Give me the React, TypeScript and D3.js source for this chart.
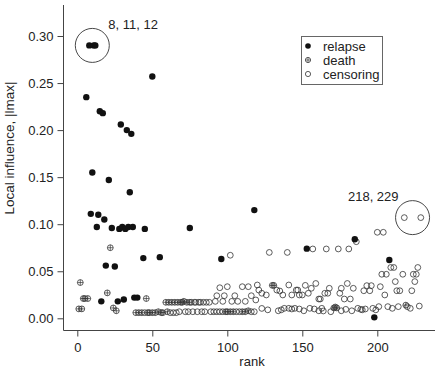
import React, { useEffect, useRef } from "react";
import * as d3 from "d3";

// [rank, local influence]
const relapse: [number, number][] = [
  [6, 0.235], [8, 0.29], [11, 0.29], [12, 0.29], [9, 0.111], [10, 0.155],
  [13, 0.097], [14, 0.11], [15, 0.22], [17, 0.218], [16, 0.018], [18, 0.105],
  [19, 0.056], [21, 0.147], [23, 0.096], [25, 0.055], [27, 0.018], [28, 0.095],
  [29, 0.206], [30, 0.097], [31, 0.02], [32, 0.095], [33, 0.2], [34, 0.097],
  [35, 0.134], [36, 0.196], [37, 0.097], [38, 0.022], [40, 0.022], [44, 0.064],
  [45, 0.095], [50, 0.257], [55, 0.065], [75, 0.096], [96, 0.063], [118, 0.115],
  [153, 0.074], [185, 0.084], [198, 0.001], [208, 0.062],
];

const death: [number, number][] = [
  [1, 0.01], [3, 0.01], [2, 0.038], [4, 0.021], [5, 0.021], [7, 0.021],
  [20, 0.027], [22, 0.075], [24, 0.011], [26, 0.008], [46, 0.021],
  [39, 0.006], [41, 0.006], [43, 0.006], [47, 0.006], [48, 0.006], [50, 0.006],
  [52, 0.006], [54, 0.007], [56, 0.006], [57, 0.006], [60, 0.007],
  [59, 0.017], [61, 0.017], [63, 0.017], [65, 0.017], [67, 0.017], [69, 0.017],
  [70, 0.017], [71, 0.018], [73, 0.017], [75, 0.017],
  [99, 0.007], [100, 0.007], [102, 0.007], [104, 0.007], [110, 0.007],
  [112, 0.007], [114, 0.008], [130, 0.035], [131, 0.035],
  [171, 0.011], [172, 0.012], [173, 0.011], [219, 0.014],
];

const censoring: [number, number][] = [
  [45, 0.006], [62, 0.006], [64, 0.006], [66, 0.006], [68, 0.007], [72, 0.007],
  [74, 0.007], [77, 0.007], [80, 0.007], [83, 0.007], [85, 0.007],
  [76, 0.017], [78, 0.017], [79, 0.017], [81, 0.017], [82, 0.017], [84, 0.017],
  [86, 0.017], [88, 0.017],
  [89, 0.007], [91, 0.007], [93, 0.007], [95, 0.007], [97, 0.007], [106, 0.007],
  [108, 0.007], [116, 0.007], [118, 0.007],
  [92, 0.018], [93, 0.024], [95, 0.0325], [97, 0.018], [98, 0.024], [100, 0.0336],
  [102, 0.067], [103, 0.018], [105, 0.024], [107, 0.018], [110, 0.0336],
  [112, 0.018], [114, 0.0336], [116, 0.024], [119, 0.0195], [120, 0.0354],
  [121, 0.03], [123, 0.0266], [126, 0.0248], [128, 0.07], [133, 0.03],
  [135, 0.029], [137, 0.0248], [140, 0.07], [141, 0.0354], [143, 0.0248],
  [146, 0.03], [147, 0.03], [148, 0.0248], [150, 0.0248], [152, 0.035],
  [154, 0.0266], [156, 0.0319], [157, 0.0737], [159, 0.037], [161, 0.0205],
  [162, 0.0205], [165, 0.0266], [166, 0.0737], [167, 0.0266], [168, 0.0319],
  [174, 0.0737], [175, 0.0266], [176, 0.0319], [178, 0.0205], [180, 0.037],
  [181, 0.0737], [182, 0.0205], [184, 0.0319], [186, 0.0814], [191, 0.0293],
  [193, 0.0347], [195, 0.0293], [196, 0.0347], [200, 0.0914], [202, 0.0336],
  [203, 0.0468], [204, 0.0914], [205, 0.0248], [206, 0.0468], [209, 0.054],
  [211, 0.054], [212, 0.039], [213, 0.0293], [215, 0.0293], [217, 0.0468],
  [218, 0.107], [223, 0.0293], [224, 0.0468], [225, 0.039], [226, 0.0468],
  [227, 0.054], [229, 0.107],
  [123, 0.0105], [127, 0.009], [134, 0.008], [136, 0.009], [138, 0.0106],
  [141, 0.0106], [143, 0.0099], [145, 0.0106], [148, 0.0099], [151, 0.008],
  [155, 0.0106], [158, 0.0099], [161, 0.008], [163, 0.0106], [164, 0.0078],
  [169, 0.007], [176, 0.008], [179, 0.0095], [183, 0.008], [187, 0.0106],
  [189, 0.0095], [190, 0.009], [192, 0.0099], [197, 0.0106], [199, 0.009],
  [201, 0.0124], [207, 0.0124], [210, 0.0106], [214, 0.0124], [220, 0.0124],
  [222, 0.0106], [228, 0.013],
];

const xTicks = [0, 50, 100, 150, 200];
const yTicks = [0, 0.05, 0.1, 0.15, 0.2, 0.25, 0.3];
const legendLabels = ["relapse", "death", "censoring"];

// highlighted groups: outer ranks, value, label
const highlights: { ranks: number[]; value: number; label: string }[] = [
  { ranks: [8, 12], value: 0.29, label: "8, 11, 12" },
  { ranks: [218, 229], value: 0.107, label: "218, 229" },
];

const WIDTH = 436;
const HEIGHT = 369;
const INK = "#222";
const FONT = "'Liberation Sans', Arial, sans-serif";

export default function App() {
  const svgRef = useRef<SVGSVGElement>(null);

  useEffect(() => {
    const svg = d3.select(svgRef.current);
    svg.selectAll("*").remove();

    const x = d3.scaleLinear().domain([0, 200]).range([77.3, 377.3]);
    const y = d3.scaleLinear().domain([0, 0.3]).range([318.3, 36]);
    const axisX = 63.5;
    const axisY = 330.5;

    // frame: left and bottom lines only
    svg.append("path")
      .attr("d", `M${axisX},5V${axisY}H435`)
      .attr("fill", "none")
      .attr("stroke", "#444")
      .attr("stroke-width", 1);

    const yAxis = d3.axisLeft(y)
      .tickValues(yTicks)
      .tickSize(6)
      .tickPadding(4)
      .tickFormat(d3.format(".2f"));
    const gy = svg.append("g")
      .attr("transform", `translate(${axisX},0)`)
      .call(yAxis);
    gy.select(".domain").remove();

    const xAxis = d3.axisBottom(x)
      .tickValues(xTicks)
      .tickSize(6)
      .tickPadding(6)
      .tickFormat(d3.format("d"));
    const gx = svg.append("g")
      .attr("transform", `translate(0,${axisY})`)
      .call(xAxis);
    gx.select(".domain").remove();

    svg.selectAll(".tick line").attr("stroke", "#444");
    svg.selectAll(".tick text")
      .attr("fill", INK)
      .style("font-family", FONT)
      .style("font-size", "13px");

    // axis titles
    svg.append("text")
      .attr("x", 252)
      .attr("y", 366)
      .attr("text-anchor", "middle")
      .attr("fill", INK)
      .style("font-family", FONT)
      .style("font-size", "13px")
      .text("rank");

    svg.append("text")
      .attr("transform", "translate(14,148) rotate(-90)")
      .attr("text-anchor", "middle")
      .attr("fill", INK)
      .style("font-family", FONT)
      .style("font-size", "13.5px")
      .text("Local influence, |lmax|");

    const plot = svg.append("g");

    // censoring: open circles
    plot.selectAll(".cens")
      .data(censoring)
      .enter()
      .append("circle")
      .attr("cx", (d) => x(d[0]))
      .attr("cy", (d) => y(d[1]))
      .attr("r", 2.9)
      .attr("fill", "none")
      .attr("stroke", "#333")
      .attr("stroke-width", 0.8);

    // death: circle with a cross
    const dg = plot.selectAll(".death")
      .data(death)
      .enter()
      .append("g")
      .attr("transform", (d) => `translate(${x(d[0])},${y(d[1])})`);
    dg.append("circle")
      .attr("r", 2.9)
      .attr("fill", "none")
      .attr("stroke", "#333")
      .attr("stroke-width", 0.8);
    dg.append("path")
      .attr("d", "M-2.9,0H2.9M0,-2.9V2.9")
      .attr("stroke", "#333")
      .attr("stroke-width", 0.7);

    // relapse: filled dots
    plot.selectAll(".rel")
      .data(relapse)
      .enter()
      .append("circle")
      .attr("cx", (d) => x(d[0]))
      .attr("cy", (d) => y(d[1]))
      .attr("r", 3.2)
      .attr("fill", "#111");

    // highlight rings; the upper-left label sits to the right, the other to the left
    highlights.forEach((h, i) => {
      const cx = (x(h.ranks[0]) + x(h.ranks[1])) / 2;
      const cy = y(h.value);
      svg.append("circle")
        .attr("cx", cx)
        .attr("cy", cy)
        .attr("r", 17)
        .attr("fill", "none")
        .attr("stroke", "#333")
        .attr("stroke-width", 0.9);
      svg.append("text")
        .attr("x", i === 0 ? cx + 16 : cx - 14)
        .attr("y", i === 0 ? cy - 16 : cy - 17)
        .attr("text-anchor", i === 0 ? "start" : "end")
        .attr("fill", INK)
        .style("font-family", FONT)
        .style("font-size", "13px")
        .text(h.label);
    });

    // legend
    const lg = svg.append("g").attr("transform", "translate(301,36)");
    lg.append("rect")
      .attr("x", 0.5)
      .attr("y", 0.5)
      .attr("width", 81)
      .attr("height", 48)
      .attr("fill", "#fff")
      .attr("stroke", "#666")
      .attr("stroke-width", 1);
    legendLabels.forEach((label, i) => {
      const ry = 10 + i * 14;
      if (i === 0) {
        lg.append("circle").attr("cx", 7).attr("cy", ry).attr("r", 2.8).attr("fill", "#111");
      } else {
        lg.append("circle")
          .attr("cx", 7)
          .attr("cy", ry)
          .attr("r", 2.6)
          .attr("fill", "none")
          .attr("stroke", "#333")
          .attr("stroke-width", 0.8);
        if (i === 1) {
          lg.append("path")
            .attr("d", `M4.4,${ry}H9.6M7,${ry - 2.6}V${ry + 2.6}`)
            .attr("stroke", "#333")
            .attr("stroke-width", 0.7);
        }
      }
      lg.append("text")
        .attr("x", 22)
        .attr("y", ry + 4.5)
        .attr("fill", INK)
        .style("font-family", FONT)
        .style("font-size", "13px")
        .text(label);
    });
  }, []);

  return (
    <svg
      ref={svgRef}
      width={WIDTH}
      height={HEIGHT}
      style={{ position: "absolute", left: 0, top: 0, background: "#fff" }}
    ></svg>
  );
}
